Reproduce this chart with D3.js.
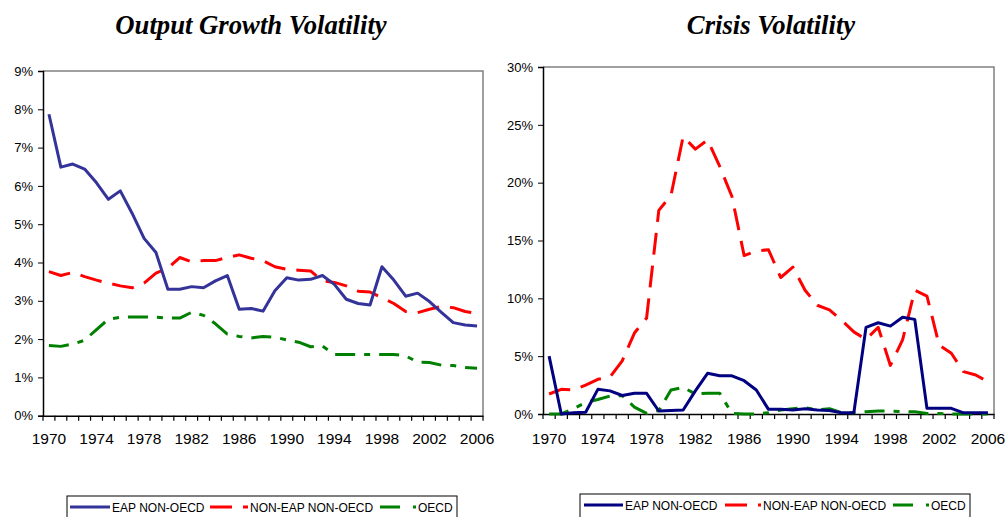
<!DOCTYPE html>
<html>
<head>
<meta charset="utf-8">
<script src="https://cdn.jsdelivr.net/npm/d3@7"></script>
<style>
  body { margin: 0; background: #fff; }
  svg { display: block; }
  .title { font-family: "Liberation Serif", "Times New Roman", serif; font-weight: bold; font-style: italic; font-size: 26.7px; }
  .axis text { font-family: "Liberation Sans", Arial, sans-serif; fill: #000; }
  .legend text { font-family: "Liberation Sans", Arial, sans-serif; font-size: 12px; fill: #000; }
</style>
</head>
<body>
<div id="chart"></div>
<script>
// years on the category axis
var years = d3.range(1970, 2007);
var yearLabels = [1970, 1974, 1978, 1982, 1986, 1990, 1994, 1998, 2002, 2006];

// Output growth volatility (%)
var growthEap = [7.87, 6.49, 6.57, 6.44, 6.08, 5.65, 5.87, 5.28, 4.63, 4.26,
  3.30, 3.30, 3.37, 3.34, 3.52, 3.66, 2.78, 2.80, 2.73, 3.26,
  3.60, 3.54, 3.56, 3.66, 3.43, 3.04, 2.93, 2.89, 3.89, 3.54,
  3.12, 3.20, 2.98, 2.70, 2.43, 2.37, 2.34];
var growthNonEap = [3.76, 3.66, 3.74, 3.63, 3.54, 3.46, 3.39, 3.34, 3.46, 3.72,
  3.85, 4.13, 4.02, 4.05, 4.05, 4.13, 4.20, 4.11, 4.05, 3.89,
  3.82, 3.80, 3.78, 3.52, 3.48, 3.39, 3.25, 3.23, 3.08, 2.93,
  2.72, 2.69, 2.78, 2.85, 2.82, 2.72, 2.67];
var growthOecd = [1.83, 1.81, 1.87, 1.97, 2.25, 2.52, 2.57, 2.58, 2.58, 2.57,
  2.55, 2.55, 2.70, 2.62, 2.40, 2.13, 2.07, 2.03, 2.07, 2.05,
  1.98, 1.92, 1.80, 1.82, 1.60, 1.60, 1.60, 1.60, 1.60, 1.60,
  1.56, 1.40, 1.39, 1.32, 1.31, 1.26, 1.24];

// Crisis volatility (%)
var crisisEap = [5.0, 0.0, 0.1, 0.15, 2.13, 2.0, 1.6, 1.79, 1.79, 0.26,
  0.3, 0.35, 2.0, 3.52, 3.3, 3.3, 2.88, 2.07, 0.4, 0.4,
  0.35, 0.45, 0.35, 0.3, 0.1, 0.1, 7.49, 7.89, 7.6, 8.36,
  8.18, 0.49, 0.49, 0.49, 0.1, 0.1, 0.1];
var crisisNonEap = [1.73, 2.13, 2.07, 2.5, 3.0, 3.2, 4.6, 7.0, 8.3, 17.6,
  18.9, 24.0, 22.9, 23.7, 21.4, 18.8, 13.7, 14.1, 14.2, 11.8,
  12.7, 10.7, 9.4, 9.0, 8.1, 7.1, 6.45, 7.5, 4.2, 6.4,
  10.7, 10.2, 5.96, 5.25, 3.66, 3.37, 2.8];
var crisisOecd = [0.0, 0.0, 0.45, 1.0, 1.25, 1.55, 1.6, 0.6, 0.05, 0.3,
  2.07, 2.3, 1.73, 1.8, 1.8, 0.05, 0.0, 0.0, 0.1, 0.35,
  0.45, 0.55, 0.35, 0.45, 0.1, 0.1, 0.2, 0.25, 0.25, 0.2,
  0.2, 0.05, 0.05, 0.0, 0.0, 0.0, 0.0];

var seriesNames = ["EAP NON-OECD", "NON-EAP NON-OECD", "OECD"];

var svg = d3.select("#chart").append("svg")
  .attr("width", 1006)
  .attr("height", 517);

function drawPanel(opt) {
  var g = svg.append("g");

  var x = d3.scaleBand().domain(years).range([opt.left, opt.right]);
  var y = d3.scaleLinear().domain([0, opt.max]).range([opt.bottom, opt.top]);

  g.append("text").attr("class", "title")
    .attr("x", opt.titleX).attr("y", 33.5)
    .attr("text-anchor", "middle")
    .text(opt.title);

  // plot area border (top, right)
  g.append("path")
    .attr("d", "M" + opt.left + "," + opt.top + "H" + opt.right + "V" + opt.bottom)
    .attr("fill", "none").attr("stroke", "#808080").attr("stroke-width", 1.5);

  var yAxis = d3.axisLeft(y).tickValues(opt.yTicks).tickSize(5).tickPadding(5)
    .tickFormat(function (d) { return d + "%"; });
  var ya = g.append("g").attr("class", "axis")
    .attr("transform", "translate(" + opt.left + ",0)")
    .call(yAxis);
  ya.selectAll("text").style("font-size", "13px");
  ya.select(".domain").attr("stroke-width", 1.5);

  var xAxis = d3.axisBottom(x).tickValues(yearLabels).tickSize(0).tickPadding(opt.xPad);
  var xa = g.append("g").attr("class", "axis")
    .attr("transform", "translate(0," + opt.bottom + ")")
    .call(xAxis);
  xa.selectAll("text").style("font-size", "15.5px");
  xa.select(".domain").attr("stroke-width", 1.5);

  // category boundary ticks
  var bounds = years.map(function (d) { return x(d); }).concat([opt.right]);
  xa.selectAll("line.cat").data(bounds).enter().append("line")
    .attr("class", "cat")
    .attr("x1", function (d) { return d; }).attr("x2", function (d) { return d; })
    .attr("y1", 0).attr("y2", 5)
    .attr("stroke", "#000").attr("stroke-width", 1.2);

  var line = d3.line()
    .x(function (d, i) { return x(years[i]) + x.bandwidth() / 2; })
    .y(function (d) { return y(d); });

  var styles = opt.styles;
  [opt.s3, opt.s2, opt.s1].forEach(function (s, k) {
    var st = styles[2 - k];
    g.append("path").datum(s)
      .attr("d", line)
      .attr("fill", "none")
      .attr("stroke", st.color)
      .attr("stroke-width", 3)
      .attr("stroke-dasharray", st.dash)
      .attr("stroke-linejoin", "round");
  });

  // legend
  var lg = g.append("g").attr("class", "legend");
  lg.append("rect")
    .attr("x", opt.lx).attr("y", opt.ly)
    .attr("width", opt.lw).attr("height", 40)
    .attr("fill", "#fff").attr("stroke", "#000").attr("stroke-width", 1);
  var ty = opt.ly + 11;
  opt.legendItems.forEach(function (it, i) {
    var st = styles[i];
    lg.append("line")
      .attr("x1", it.x0).attr("x2", it.x1)
      .attr("y1", ty).attr("y2", ty)
      .attr("stroke", st.color).attr("stroke-width", 3)
      .attr("stroke-dasharray", st.legendDash);
    lg.append("text").attr("x", it.tx).attr("y", ty + 4.5).text(seriesNames[i]);
  });
}

drawPanel({
  title: "Output Growth Volatility", titleX: 251,
  left: 43, right: 483, top: 71, bottom: 415.7, max: 9,
  yTicks: d3.range(0, 10), xPad: 17,
  s1: growthEap, s2: growthNonEap, s3: growthOecd,
  styles: [
    { color: "#333399", dash: null, legendDash: null },
    { color: "#ff0000", dash: "22,11", legendDash: "22,11" },
    { color: "#008000", dash: "20,9,6,9", legendDash: "20,13" }
  ],
  lx: 67, ly: 496, lw: 390,
  legendItems: [
    { x0: 70, x1: 110, tx: 112 },
    { x0: 210, x1: 248, tx: 250 },
    { x0: 380, x1: 416, tx: 418 }
  ]
});

drawPanel({
  title: "Crisis Volatility", titleX: 771,
  left: 543, right: 994, top: 67, bottom: 414, max: 30,
  yTicks: d3.range(0, 31, 5), xPad: 19,
  s1: crisisEap, s2: crisisNonEap, s3: crisisOecd,
  styles: [
    { color: "#000080", dash: null, legendDash: null },
    { color: "#ff0000", dash: "22,11", legendDash: "22,11" },
    { color: "#008000", dash: "20,9,6,9", legendDash: "20,13" }
  ],
  lx: 580, ly: 494, lw: 390,
  legendItems: [
    { x0: 584, x1: 623, tx: 625 },
    { x0: 725, x1: 761, tx: 763 },
    { x0: 893, x1: 929, tx: 931 }
  ]
});
</script>
</body>
</html>
